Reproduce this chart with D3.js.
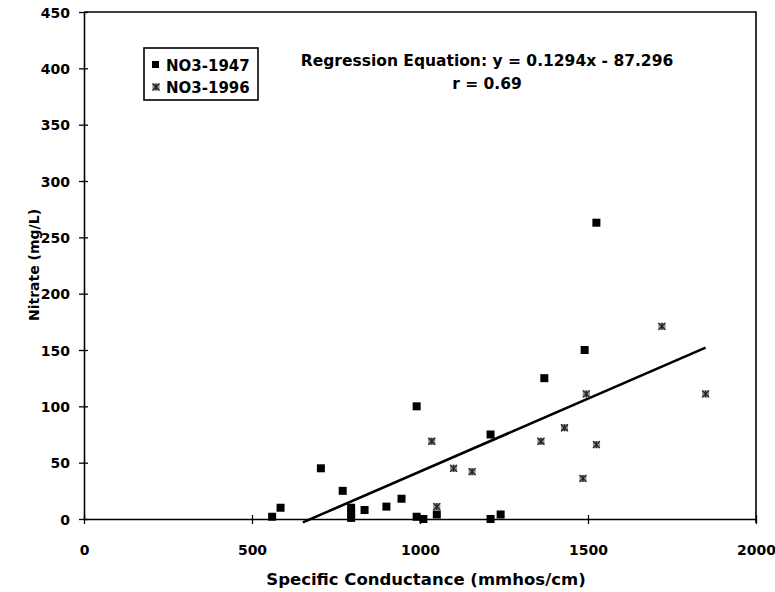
<!DOCTYPE html>
<html>
<head>
<meta charset="utf-8">
<script src="https://cdn.jsdelivr.net/npm/d3@7"></script>
<style>
  body { margin: 0; background: #fff; }
  text { font-family: 'DejaVu Sans', sans-serif; font-weight: bold; fill: #000; }
</style>
</head>
<body>
<div id="chart"></div>
<script>
// data
var x1947 = [560, 585, 705, 770, 795, 795, 795, 835, 900, 945, 990, 990, 1010, 1050, 1210, 1210, 1240, 1370, 1490, 1525]
var y1947 = [2, 10, 45, 25, 10, 5, 1, 8, 11, 18, 100, 2, 0, 4, 75, 0, 4, 125, 150, 263]
var x1996 = [1035, 1050, 1100, 1155, 1360, 1430, 1485, 1495, 1525, 1720, 1850]
var y1996 = [69, 11, 45, 42, 69, 81, 36, 111, 66, 171, 111]
var xTicks = [0, 500, 1000, 1500, 2000]
var yTicks = [0, 50, 100, 150, 200, 250, 300, 350, 400, 450]
var slope = 0.1294
var intercept = -87.296

var width = 775
var height = 592

var svg = d3
  .select('#chart')
  .append('svg')
  .attr('width', width)
  .attr('height', height)

var xPositionScale = d3.scaleLinear().domain([0, 2000]).range([84, 756])
var yPositionScale = d3.scaleLinear().domain([0, 450]).range([519, 12])

// frame (top and right)
svg
  .append('path')
  .attr('d', 'M' + xPositionScale(0) + ',' + yPositionScale(450) + 'H' + xPositionScale(2000) + 'V' + (yPositionScale(0) + 4))
  .attr('fill', 'none')
  .attr('stroke', '#000')
  .attr('stroke-width', 1.6)

// axes
var xAxis = d3
  .axisBottom(xPositionScale)
  .tickValues(xTicks)
  .tickFormat(d3.format('d'))
  .tickSize(4)
  .tickSizeOuter(0)
var gx = svg
  .append('g')
  .attr('class', 'axis x-axis')
  .attr('transform', 'translate(0,' + yPositionScale(0) + ')')
  .call(xAxis)
gx.select('.domain').attr('stroke-width', 1.6)
gx.selectAll('.tick line').attr('y1', -4).attr('y2', 5).attr('stroke-width', 1.3)
gx.selectAll('.tick text')
  .attr('y', 36)
  .attr('dy', 0)
  .attr('font-size', 14)
  .attr('font-family', 'DejaVu Sans')

var yAxis = d3
  .axisLeft(yPositionScale)
  .tickValues(yTicks)
  .tickFormat(d3.format('d'))
  .tickSize(4)
  .tickSizeOuter(0)
var gy = svg
  .append('g')
  .attr('class', 'axis y-axis')
  .attr('transform', 'translate(' + xPositionScale(0) + ',0)')
  .call(yAxis)
gy.select('.domain').attr('stroke-width', 1.6)
gy.selectAll('.tick line').attr('x1', -5).attr('x2', 4).attr('stroke-width', 1.3)
gy.selectAll('.tick text')
  .attr('x', -14)
  .attr('dy', '0.36em')
  .attr('font-size', 14)
  .attr('font-family', 'DejaVu Sans')

// regression line, clipped just below the axis
var xStart = (-3 - intercept) / slope
var xEnd = d3.max(x1947.concat(x1996))
svg
  .append('line')
  .attr('x1', xPositionScale(xStart))
  .attr('y1', yPositionScale(slope * xStart + intercept))
  .attr('x2', xPositionScale(xEnd))
  .attr('y2', yPositionScale(slope * xEnd + intercept))
  .attr('stroke', '#000')
  .attr('stroke-width', 2.6)

// points
var pts1947 = x1947.map((d, i) => ({ x: d, y: y1947[i] }))
var pts1996 = x1996.map((d, i) => ({ x: d, y: y1996[i] }))

function drawStar(sel) {
  sel.append('rect')
    .attr('x', -3.5).attr('y', -3.5).attr('width', 7).attr('height', 7)
    .attr('fill', '#888')
  sel.append('path')
    .attr('d', 'M-3.5,-3.5L3.5,3.5M3.5,-3.5L-3.5,3.5M0,-3.5V3.5')
    .attr('stroke', '#222')
    .attr('stroke-width', 1.2)
}

svg
  .selectAll('.sq1947')
  .data(pts1947)
  .enter()
  .append('rect')
  .attr('class', 'sq1947')
  .attr('x', d => xPositionScale(d.x) - 4)
  .attr('y', d => yPositionScale(d.y) - 4)
  .attr('width', 8)
  .attr('height', 8)
  .attr('fill', '#000')

svg
  .selectAll('.st1996')
  .data(pts1996)
  .enter()
  .append('g')
  .attr('class', 'st1996')
  .attr('transform', d => 'translate(' + xPositionScale(d.x) + ',' + yPositionScale(d.y) + ')')
  .call(drawStar)

// legend
var legend = svg.append('g').attr('transform', 'translate(144,48)')
legend
  .append('rect')
  .attr('width', 114)
  .attr('height', 52)
  .attr('fill', '#fff')
  .attr('stroke', '#000')
  .attr('stroke-width', 1.6)
legend
  .append('rect')
  .attr('x', 8).attr('y', 13).attr('width', 7).attr('height', 7)
  .attr('fill', '#000')
legend
  .append('text')
  .text('NO3-1947')
  .attr('x', 22)
  .attr('y', 23)
  .attr('font-size', 15)
legend
  .append('g')
  .attr('transform', 'translate(12,39)')
  .call(drawStar)
legend
  .append('text')
  .text('NO3-1996')
  .attr('x', 22)
  .attr('y', 45)
  .attr('font-size', 15)

// regression text
svg
  .append('text')
  .text('Regression Equation: y = 0.1294x - 87.296')
  .attr('x', 487)
  .attr('y', 66)
  .attr('text-anchor', 'middle')
  .attr('font-size', 15.5)
svg
  .append('text')
  .text('r = 0.69')
  .attr('x', 487)
  .attr('y', 89)
  .attr('text-anchor', 'middle')
  .attr('font-size', 15.5)

// axis titles
svg
  .append('text')
  .text('Specific Conductance (mmhos/cm)')
  .attr('x', 426)
  .attr('y', 585)
  .attr('text-anchor', 'middle')
  .attr('font-size', 16.5)

svg
  .append('text')
  .text('Nitrate (mg/L)')
  .attr('transform', 'translate(39,265) rotate(-90)')
  .attr('text-anchor', 'middle')
  .attr('font-size', 14)
</script>
</body>
</html>
